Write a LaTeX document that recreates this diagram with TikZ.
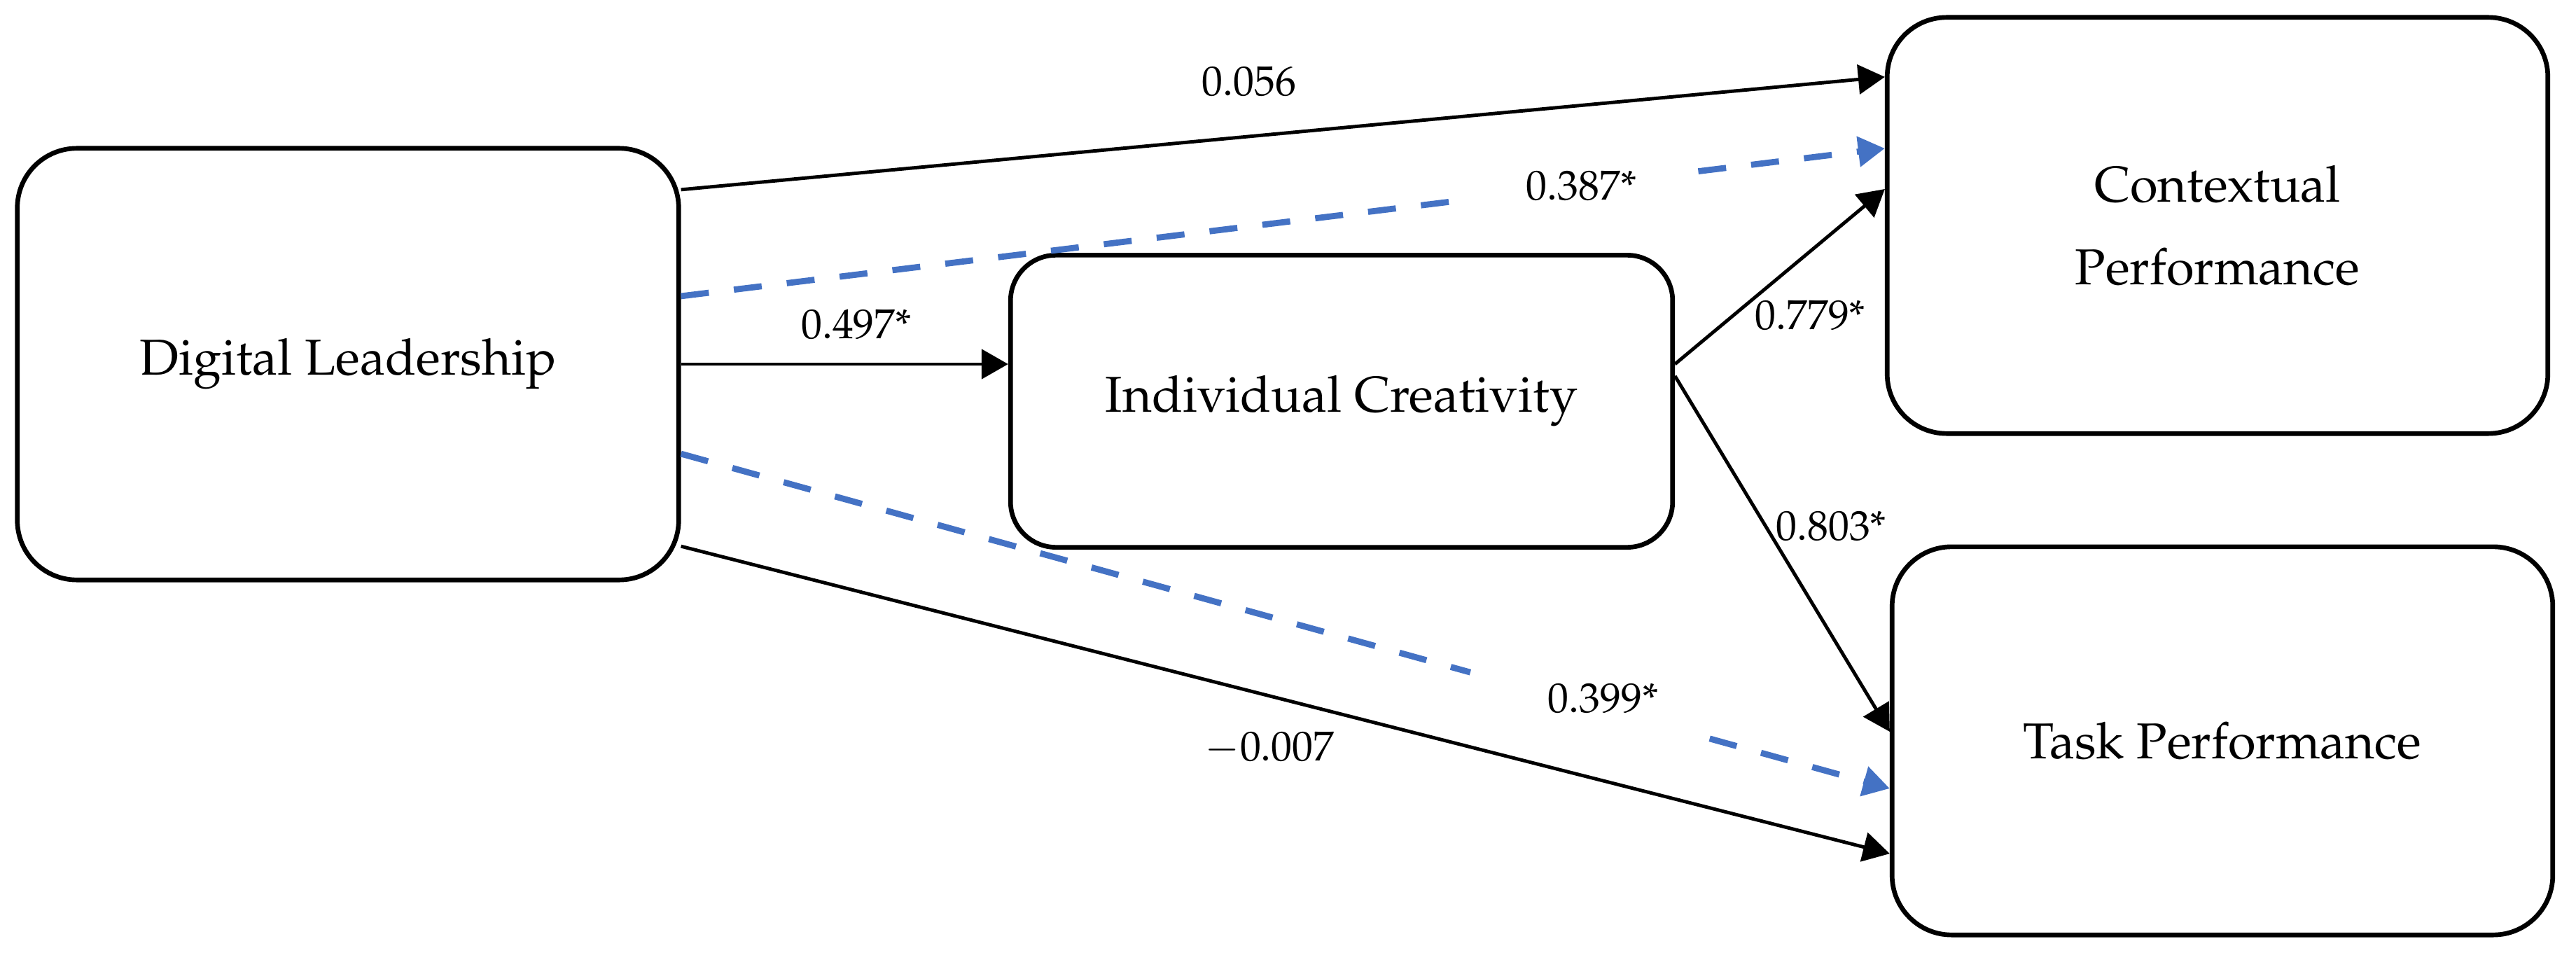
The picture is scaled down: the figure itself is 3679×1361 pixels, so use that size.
\documentclass[tikz,border=0pt]{standalone}
\usepackage[T1]{fontenc}
\usepackage{mathpazo}
\usepackage{tikz}
\usetikzlibrary{arrows.meta}
\definecolor{pathblue}{RGB}{68,114,196}
\tikzstyle{cbox}=[rectangle,draw=black,line width=1.9pt,rounded corners=0.85cm,align=center,font=\fontsize{20.5}{33.6}\selectfont]
\tikzstyle{dpath}=[-{Triangle[length=0.38cm,width=0.42cm]},line width=1.4pt]
\tikzstyle{dashpath}=[dpath,pathblue,line width=2.5pt,dash pattern=on 0.4cm off 0.36cm]
\tikzstyle{coef}=[font=\fontsize{17}{20}\selectfont,inner sep=0pt]

\begin{document}
\begin{tikzpicture}[x=0.01cm,y=-0.01cm]
\useasboundingbox (0,0) rectangle (3679,1361);
\node[cbox,minimum width=9.44cm,minimum height=6.16cm] (DL) at (497,520) {Digital Leadership};
\node[cbox,rounded corners=0.65cm,minimum width=9.45cm,minimum height=4.17cm] (IC) at (1916,573) {Individual Creativity};
\node[cbox,minimum width=9.43cm,minimum height=5.94cm] (CP) at (3167,322) {Contextual\\Performance};
\node[cbox,minimum width=9.43cm,minimum height=5.54cm] (TP) at (3174,1058) {Task Performance};
\draw[dpath] ([yshift=2.49cm]DL.east) -- ([yshift=2.12cm]CP.west) node[coef,pos=0.472,above=0.55cm] {0.056};
\path ([yshift=0.97cm]DL.east) -- ([yshift=1.10cm]CP.west) coordinate[pos=0.64] (g1) coordinate[pos=0.845] (h1) node[coef,pos=0.748] {0.387*};
\draw[dashpath,-] ([yshift=0.97cm]DL.east) -- (g1);\draw[dashpath] (h1) -- ([yshift=1.10cm]CP.west);
\draw[dpath] (DL.east) -- (DL.east -| IC.west) node[coef,pos=0.536,above=0.33cm] {0.497*};
\draw[dpath] ([yshift=0.53cm]IC.east) -- ([yshift=0.52cm]CP.west) node[coef,pos=0.373,anchor=north west] {0.779*};
\draw[dpath] ([yshift=0.36cm]IC.east) -- ([yshift=0.13cm]TP.west) node[coef,pos=0.423,anchor=west,xshift=0.12cm] {0.803*};
\path ([yshift=-1.28cm]DL.east) -- ([yshift=-0.68cm]TP.west) coordinate[pos=0.653] (g2) coordinate[pos=0.851] (h2) node[coef,pos=0.763,yshift=0.15cm] {0.399*};
\draw[dashpath,-] ([yshift=-1.28cm]DL.east) -- (g2);\draw[dashpath] (h2) -- ([yshift=-0.68cm]TP.west);
\draw[dpath] ([yshift=-2.60cm]DL.east) -- ([yshift=-1.61cm]TP.west) node[coef,pos=0.487,below=0.49cm] {$-$0.007};
\end{tikzpicture}
\end{document}
